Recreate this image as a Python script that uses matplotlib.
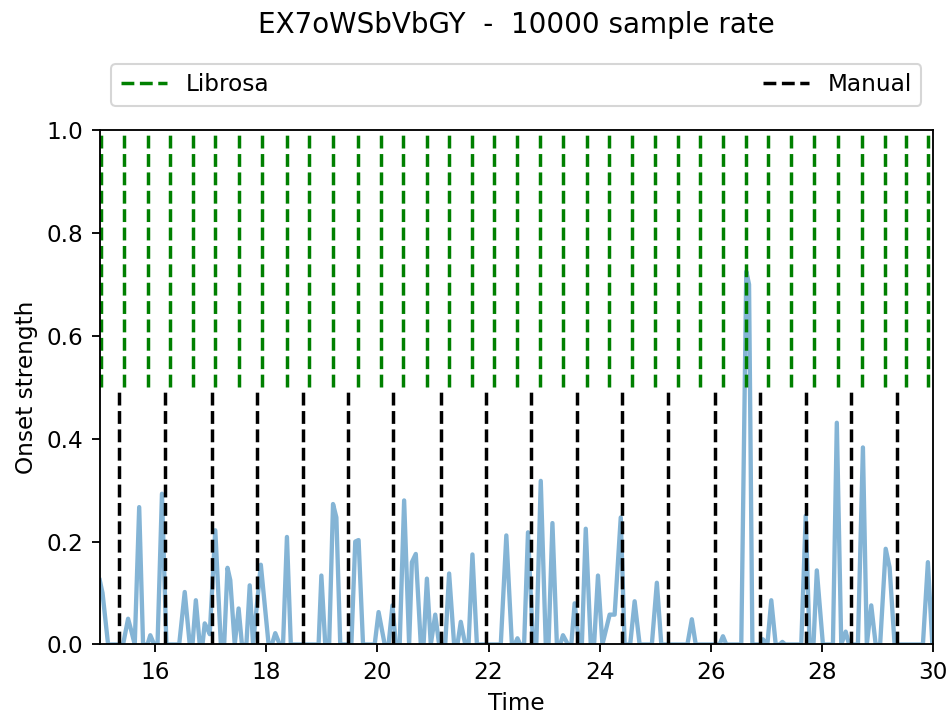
import matplotlib
matplotlib.use("Agg")
import matplotlib.pyplot as plt

title = "EX7oWSbVbGY  -  10000 sample rate"

librosa_onsets = [15.02, 15.44, 15.86, 16.26, 16.68, 17.07, 17.50, 17.93, 18.38, 18.77,
                  19.20, 19.65, 20.07, 20.46, 20.90, 21.29, 21.71, 22.10, 22.52, 22.92,
                  23.34, 23.78, 24.17, 24.59, 24.99, 25.41, 25.80, 26.22, 26.63, 27.03,
                  27.44, 27.86, 28.29, 28.73, 29.14, 29.51, 29.91]

manual_onsets = [15.35, 16.17, 17.02, 17.84, 18.66, 19.47, 20.28, 21.14, 21.95,
                 22.77, 23.59, 24.41, 25.23, 26.07, 26.89, 27.71, 28.53, 29.35]

onset_time = [15.00, 15.05, 15.15, 15.42, 15.51, 15.56, 15.63, 15.71, 15.78, 15.86,
              15.91, 15.98, 16.04, 16.12, 16.20, 16.43, 16.53, 16.62, 16.67, 16.73,
              16.80, 16.85, 16.89, 16.94, 16.98, 17.08, 17.18, 17.24, 17.30, 17.35,
              17.43, 17.50, 17.56, 17.64, 17.70, 17.76, 17.90, 17.95, 18.04, 18.10,
              18.16, 18.24, 18.30, 18.37, 18.44, 18.94, 18.99, 19.06, 19.13, 19.20,
              19.26, 19.33, 19.53, 19.60, 19.66, 19.74, 19.95, 20.02, 20.13, 20.20,
              20.27, 20.33, 20.40, 20.48, 20.57, 20.62, 20.69, 20.78, 20.83, 20.89,
              20.96, 21.04, 21.11, 21.22, 21.29, 21.38, 21.44, 21.50, 21.58, 21.64,
              21.71, 21.79, 22.22, 22.32, 22.42, 22.47, 22.52, 22.57, 22.64, 22.71,
              22.80, 22.86, 22.94, 23.03, 23.08, 23.15, 23.23, 23.29, 23.34, 23.43,
              23.49, 23.55, 23.63, 23.68, 23.75, 23.84, 23.90, 23.97, 24.05, 24.18,
              24.27, 24.38, 24.45, 24.55, 24.63, 24.72, 24.94, 25.03, 25.11, 25.58,
              25.66, 25.73, 26.16, 26.22, 26.28, 26.55, 26.64, 26.69, 26.75, 26.90,
              26.94, 27.02, 27.09, 27.17, 27.24, 27.29, 27.34, 27.63, 27.71, 27.78,
              27.85, 27.91, 28.02, 28.20, 28.27, 28.35, 28.43, 28.49, 28.65, 28.74,
              28.81, 28.89, 28.97, 29.05, 29.15, 29.22, 29.31, 29.82, 29.91, 29.99]

onset_strength = [0.125, 0.100, 0.000, 0.000, 0.050, 0.030, 0.000, 0.267, 0.000, 0.000,
                  0.018, 0.000, 0.000, 0.293, 0.000, 0.000, 0.102, 0.000, 0.000, 0.086,
                  0.000, 0.000, 0.041, 0.030, 0.020, 0.222, 0.000, 0.000, 0.149, 0.125,
                  0.000, 0.070, 0.000, 0.000, 0.115, 0.000, 0.155, 0.100, 0.000, 0.000,
                  0.022, 0.000, 0.000, 0.209, 0.000, 0.000, 0.134, 0.000, 0.000, 0.273,
                  0.247, 0.000, 0.000, 0.200, 0.203, 0.000, 0.000, 0.063, 0.000, 0.000,
                  0.076, 0.000, 0.000, 0.280, 0.000, 0.160, 0.176, 0.000, 0.000, 0.128,
                  0.000, 0.058, 0.000, 0.000, 0.138, 0.000, 0.000, 0.044, 0.000, 0.000,
                  0.175, 0.000, 0.000, 0.212, 0.000, 0.000, 0.012, 0.000, 0.000, 0.218,
                  0.000, 0.000, 0.318, 0.000, 0.000, 0.236, 0.000, 0.000, 0.018, 0.000,
                  0.000, 0.080, 0.000, 0.000, 0.225, 0.000, 0.000, 0.134, 0.000, 0.058,
                  0.058, 0.247, 0.000, 0.000, 0.084, 0.000, 0.000, 0.120, 0.000, 0.000,
                  0.049, 0.000, 0.000, 0.016, 0.000, 0.000, 0.725, 0.700, 0.000, 0.000,
                  0.010, 0.000, 0.086, 0.000, 0.000, 0.005, 0.000, 0.000, 0.250, 0.000,
                  0.000, 0.144, 0.000, 0.000, 0.431, 0.000, 0.025, 0.000, 0.000, 0.383,
                  0.000, 0.076, 0.000, 0.000, 0.186, 0.150, 0.000, 0.000, 0.160, 0.000]

x_ticks = [16, 18, 20, 22, 24, 26, 28, 30]
y_ticks = [0.0, 0.2, 0.4, 0.6, 0.8, 1.0]

s = 1.125
plt.rcParams.update({
    "font.size": 10 * s,
    "axes.linewidth": 0.8 * s,
    "xtick.major.width": 0.8 * s,
    "ytick.major.width": 0.8 * s,
    "xtick.major.size": 3.5 * s,
    "ytick.major.size": 3.5 * s,
    "xtick.major.pad": 3.5 * s,
    "ytick.major.pad": 3.5 * s,
    "lines.linewidth": 1.5 * s,
})

dpi = 148
fig = plt.figure(figsize=(950 / dpi, 716 / dpi), dpi=dpi)
ax = fig.add_axes([0.105, 0.0999, 0.877, 0.7185])

ax.plot(onset_time, onset_strength, color="C0", alpha=0.55, lw=2.1)
ax.vlines(librosa_onsets, 0.5, 1.0, colors="green", linestyles="--", label="Librosa")
ax.vlines(manual_onsets, 0.0, 0.5, colors="black", linestyles="--", label="Manual")

ax.set_xlim(15, 30)
ax.set_ylim(0, 1)
ax.set_xticks(x_ticks)
ax.set_yticks(y_ticks)
ax.set_xlabel("Time")
ax.set_ylabel("Onset strength")
ax.set_title(title, fontsize=12 * s, pad=47)
ax.legend(bbox_to_anchor=(0, 1.025, 1, 0.1), loc="lower left", mode="expand", ncol=2)

fig.savefig("out.png", dpi=dpi)
